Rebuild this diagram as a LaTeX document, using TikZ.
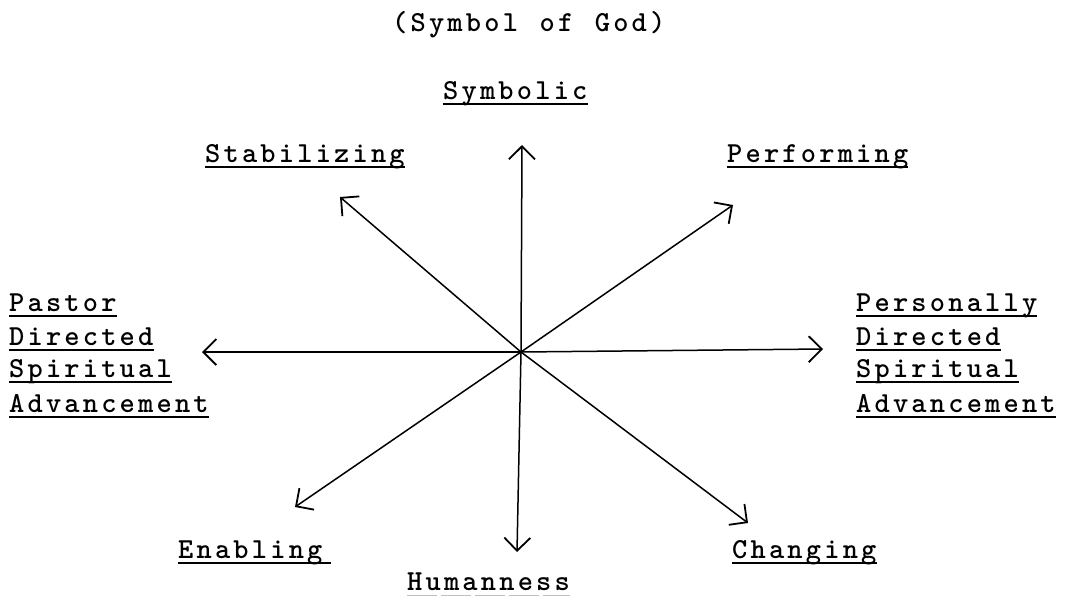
\documentclass[tikz,border=0pt]{standalone}
\usepackage{fontspec}
\usetikzlibrary{arrows.meta}
\def\spc#1{\spcA#1\relax}
\def\spcA#1{\ifx#1\relax\else#1\kern3.2pt\expandafter\spcA\fi}
\newcommand\tw{\ttfamily\bfseries\fontsize{29}{33}\selectfont}
\begin{document}
\begin{tikzpicture}[x=1pt,y=-1pt,
  lbl/.style={font=\tw, inner sep=0pt, anchor=base west},
  ul/.style={line width=1.6pt},
  faintul/.style={line width=1pt, gray!50, dash pattern=on 30pt off 4pt},
  arr/.style={line width=1.5pt, -{Straight Barb[length=13pt,width=26pt,line width=1.8pt]}}]
\useasboundingbox (0,0) rectangle (1065,597);
% texts
\node[lbl] (god) at (392,31) {\spc{(Symbol~of~God)}};
\node[lbl] (sym) at (443,99) {\spc{Symbolic}};
\node[lbl] (stab) at (205,162) {\spc{Stabilizing}};
\node[lbl] (perf) at (727,162) {\spc{Performing}};
\node[lbl] (l1) at (9,311) {\spc{Pastor}};
\node[lbl] (l2) at (9,345) {\spc{Directed}};
\node[lbl] (l3) at (9,377) {\spc{Spiritual}};
\node[lbl] (l4) at (9,412) {\spc{Advancement}};
\node[lbl] (r1) at (856,311) {\spc{Personally}};
\node[lbl] (r2) at (856,345) {\spc{Directed}};
\node[lbl] (r3) at (856,377) {\spc{Spiritual}};
\node[lbl] (r4) at (856,412) {\spc{Advancement}};
\node[lbl] (enab) at (178,558) {\spc{Enabling}};
\node[lbl] (chng) at (732,558) {\spc{Changing}};
\node[lbl] (hum) at (407,590) {\spc{Humanness}};
% underlines
\foreach \n in {sym,stab,perf,l1,l2,l3,l4,r1,r2,r3,r4,chng}
  \draw[ul] ([yshift=-5pt]\n.base west) -- ([yshift=-5pt,xshift=-3.2pt]\n.base east);
\draw[ul] ([yshift=-5pt]enab.base west) -- ([yshift=-5pt,xshift=5pt]enab.base east);
\draw[faintul] ([yshift=-5.5pt]hum.base west) -- ([yshift=-5.5pt,xshift=-3.2pt]hum.base east);
% arrows
\coordinate (c) at (521,352);
\coordinate (tu) at (522,145);
\coordinate (td) at (517,552);
\coordinate (tl) at (202,352);
\coordinate (tr) at (823,349);
\coordinate (tnw) at (340,197);
\coordinate (tne) at (733,205);
\coordinate (tsw) at (295,507);
\coordinate (tse) at (748,523);
\foreach \t in {tu,td,tl,tr,tnw,tne,tsw,tse}
  \draw[arr] (c) -- (\t);
\end{tikzpicture}
\end{document}
